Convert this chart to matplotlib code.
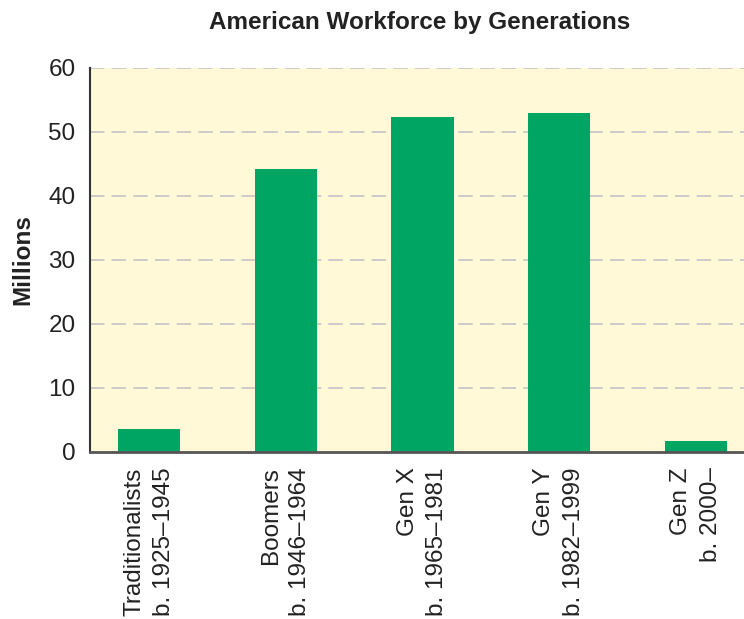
import matplotlib
matplotlib.use("Agg")
import matplotlib.pyplot as plt

categories = ["Traditionalists\nb. 1925–1945", "Boomers\nb. 1946–1964", "Gen X\nb. 1965–1981",
              "Gen Y\nb. 1982–1999", "Gen Z\nb. 2000–"]
values = [3.6, 44.2, 52.3, 53.0, 1.7]
yticks = [0, 10, 20, 30, 40, 50, 60]

plt.rcParams['font.family'] = ['Liberation Sans', 'DejaVu Sans']

fig = plt.figure(figsize=(7.44, 6.19), dpi=100)
ax = fig.add_axes([90/744, (619-452)/619, 1 - 90/744, (452-68)/619])
ax.set_facecolor("#FFF9D7")

x = list(range(len(categories)))
ax.bar(x, values, width=0.455, color="#00A564", zorder=3)

ax.set_xlim(-0.43, 4.35)
ax.set_ylim(0, 60)
ax.set_yticks(yticks)
ax.set_yticklabels([str(v) for v in yticks], fontsize=17.5)
ax.set_xticks(x)
ax.set_xticklabels(categories, rotation=90, fontsize=17.5, ha="center", va="top",
                   multialignment="right", linespacing=1.45)
ax.tick_params(axis="both", length=0, colors="#222222")
ax.tick_params(axis="y", pad=10.5)
ax.tick_params(axis="x", pad=11)

for y in yticks[1:]:
    ax.axhline(y, color="#C8C8C8", lw=1.3, dashes=(8, 4), zorder=1)

for s in ["top", "right"]:
    ax.spines[s].set_visible(False)
ax.spines["left"].set_color("#333333")
ax.spines["left"].set_linewidth(1.5)
ax.spines["bottom"].set_color("#555555")
ax.spines["bottom"].set_linewidth(2)
ax.spines["left"].set_zorder(4)
ax.spines["bottom"].set_zorder(4)

ax.set_ylabel("Millions", fontsize=17.5, fontweight="bold", color="#222222", labelpad=10)
fig.text(420/744, 1 - 22/619, "American Workforce by Generations", fontsize=17.5,
         fontweight="bold", ha="center", va="center", color="#222222")

fig.savefig("out.png", dpi=100)
